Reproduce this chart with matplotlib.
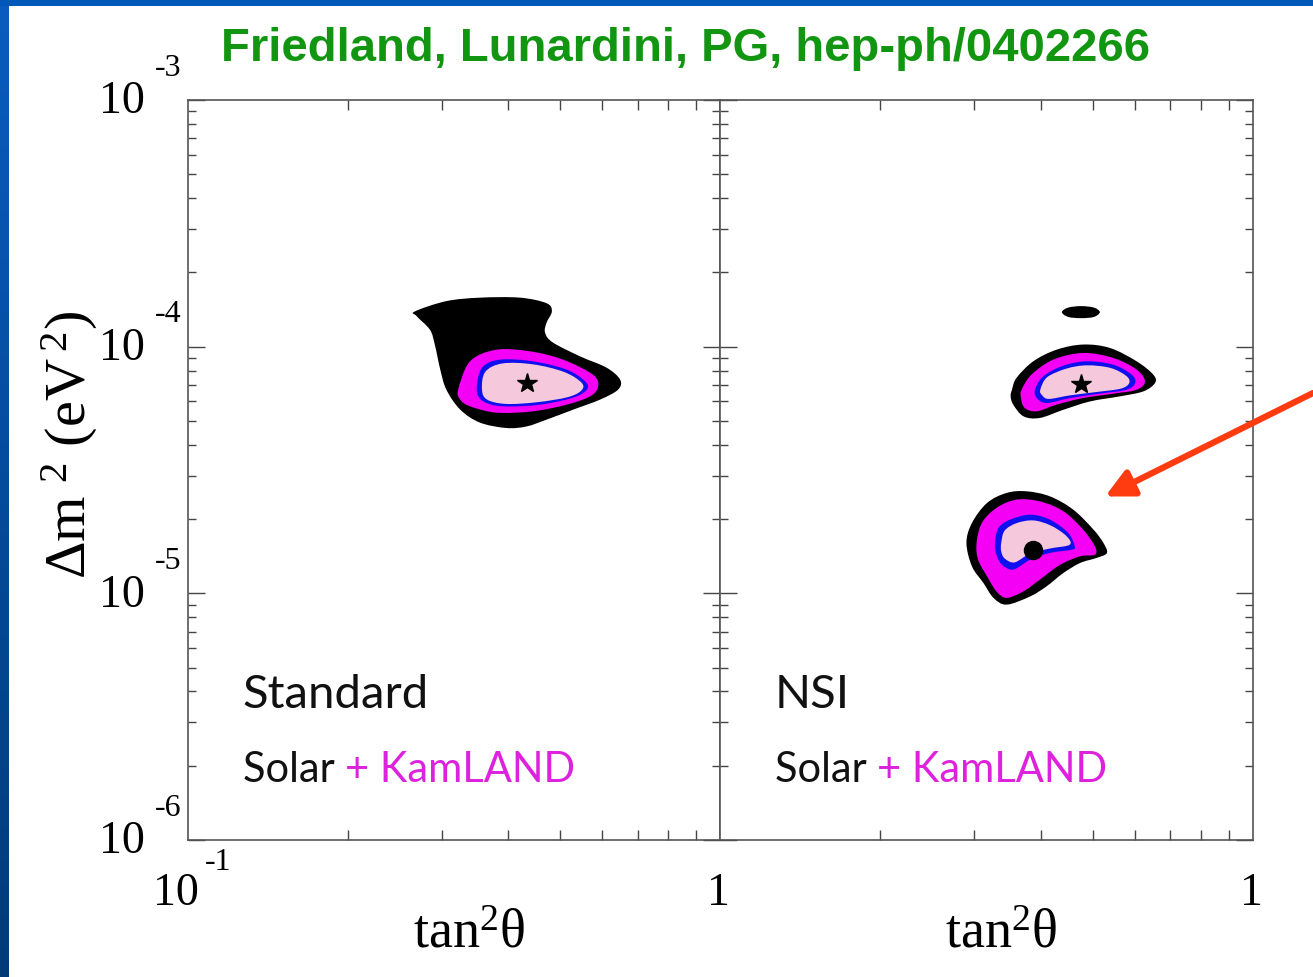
import numpy as np
import matplotlib
matplotlib.use("Agg")
import matplotlib.pyplot as plt
from matplotlib.path import Path
from matplotlib.patches import PathPatch, Rectangle
from matplotlib.ticker import LogLocator, NullFormatter
from matplotlib.colors import LinearSegmentedColormap

# ---------------- data (tan^2 theta, dm^2 in units of 1e-5 eV^2) ----------------
DM2_UNIT = 1e-5
title = "Friedland, Lunardini, PG, hep-ph/0402266"

# Standard (left panel)
std_black_t = [0.267, 0.306, 0.354, 0.421, 0.472, 0.483, 0.472, 0.469, 0.485, 0.546, 0.612, 0.649,
               0.643, 0.595, 0.529, 0.472, 0.433, 0.397, 0.354, 0.325, 0.306, 0.298, 0.291, 0.285, 0.269]
std_black_m = [13.9, 15.3, 15.8, 15.8, 15.0, 13.9, 12.5, 11.4, 10.4, 9.13, 8.22, 7.35,
               6.69, 6.10, 5.55, 5.06, 4.75, 4.68, 4.92, 5.55, 6.69, 8.07, 10.2, 11.7, 13.3]
std_mag_t = [0.322, 0.339, 0.380, 0.440, 0.507, 0.577, 0.590, 0.570, 0.515, 0.445, 0.380, 0.339, 0.325]
std_mag_m = [6.69, 8.72, 9.72, 9.57, 8.86, 7.70, 6.90, 6.29, 5.82, 5.47, 5.40, 5.73, 6.10]
std_blue_t = [0.349, 0.357, 0.386, 0.445, 0.515, 0.558, 0.562, 0.529, 0.459, 0.391, 0.359]
std_blue_m = [6.69, 8.22, 8.86, 8.72, 8.07, 7.23, 6.69, 6.21, 5.82, 5.73, 6.00]
std_pink_t = [0.357, 0.362, 0.390, 0.445, 0.509, 0.549, 0.549, 0.517, 0.452, 0.396, 0.365]
std_pink_m = [6.69, 7.90, 8.55, 8.48, 7.90, 7.15, 6.65, 6.24, 5.95, 5.86, 6.10]
std_best = (0.434, 7.14)

# NSI (right panel)
nsi_island_t = [0.438, 0.450, 0.476, 0.503, 0.516, 0.503, 0.476, 0.450]
nsi_island_m = [13.8, 14.4, 14.6, 14.4, 13.8, 13.2, 13.05, 13.2]

nsi_up_black_t = [0.353, 0.360, 0.387, 0.428, 0.480, 0.539, 0.605, 0.650, 0.655, 0.623, 0.563, 0.495,
                  0.441, 0.398, 0.371, 0.355, 0.351]
nsi_up_black_m = [6.69, 7.47, 8.72, 9.72, 10.2, 9.88, 8.72, 7.70, 7.13, 6.59, 6.29, 6.00,
                  5.55, 5.14, 5.22, 5.82, 6.29]
nsi_up_mag_t = [0.368, 0.384, 0.422, 0.480, 0.547, 0.605, 0.627, 0.605, 0.547, 0.480, 0.428, 0.393, 0.373, 0.367]
nsi_up_mag_m = [6.69, 7.70, 8.86, 9.43, 9.00, 8.07, 7.23, 6.69, 6.45, 6.19, 5.82, 5.47, 5.64, 6.19]
nsi_up_blue_t = [0.390, 0.404, 0.441, 0.488, 0.547, 0.592, 0.601, 0.579, 0.516, 0.454, 0.410, 0.393]
nsi_up_blue_m = [6.69, 7.58, 8.38, 8.72, 8.45, 7.70, 7.13, 6.69, 6.45, 6.19, 5.91, 6.19]
nsi_up_pink_t = [0.399, 0.411, 0.447, 0.488, 0.540, 0.578, 0.586, 0.565, 0.509, 0.454, 0.414, 0.402]
nsi_up_pink_m = [6.69, 7.52, 8.15, 8.40, 8.20, 7.62, 7.13, 6.76, 6.55, 6.35, 6.14, 6.36]
nsi_best = (0.476, 7.08)

nsi_lo_black_t = [0.290, 0.297, 0.317, 0.345, 0.376, 0.416, 0.460, 0.502, 0.524, 0.532, 0.509, 0.474,
                  0.441, 0.410, 0.382, 0.345, 0.326, 0.312, 0.297]
nsi_lo_black_m = [1.601, 1.930, 2.325, 2.553, 2.592, 2.472, 2.184, 1.813, 1.601, 1.458, 1.392, 1.328,
                  1.210, 1.068, 0.972, 0.900, 0.958, 1.102, 1.286]
nsi_lo_mag_t = [0.303, 0.310, 0.330, 0.360, 0.398, 0.441, 0.480, 0.505, 0.505, 0.474, 0.435, 0.398,
                0.371, 0.345, 0.330, 0.317, 0.305]
nsi_lo_mag_m = [1.601, 1.930, 2.219, 2.398, 2.360, 2.150, 1.813, 1.551, 1.435, 1.413, 1.307, 1.136,
                1.019, 0.958, 1.019, 1.172, 1.369]
nsi_lo_blue_t = [0.328, 0.333, 0.350, 0.382, 0.416, 0.450, 0.463, 0.457, 0.416, 0.382, 0.355, 0.338, 0.330]
nsi_lo_blue_m = [1.601, 1.841, 1.989, 2.084, 1.989, 1.758, 1.551, 1.503, 1.458, 1.369, 1.248, 1.307, 1.435]
nsi_lo_pink_t = [0.337, 0.342, 0.360, 0.387, 0.417, 0.446, 0.453, 0.416, 0.382, 0.357, 0.342, 0.337]
nsi_lo_pink_m = [1.601, 1.795, 1.925, 1.975, 1.885, 1.712, 1.575, 1.520, 1.450, 1.335, 1.385, 1.480]
nsi_lo_best = (0.387, 1.503)

arrow_target = (0.528, 2.47)   # (tan^2, dm^2 [1e-5])

y_tick_vals = [1e-6, 1e-5, 1e-4, 1e-3]
y_tick_exps = ["-6", "-5", "-4", "-3"]
panel_names = ["Standard", "NSI"]

# ---------------- style ----------------
C_BLACK = "#000000"
C_MAG = "#f400f4"
C_BLUE = "#1010ee"
C_PINK = "#f6c8dc"
C_TEXTMAG = "#dd22dd"
SERIF = "Liberation Serif"

W, H = 1313, 977
fig = plt.figure(figsize=(W / 100, H / 100), dpi=100)
fig.patch.set_facecolor("white")

axL = fig.add_axes([188 / W, 1 - 840 / H, 532 / W, 740 / H])
axR = fig.add_axes([720 / W, 1 - 840 / H, 533 / W, 740 / H])


def style(ax):
    ax.set_xscale("log")
    ax.set_yscale("log")
    ax.set_xlim(0.1, 1)
    ax.set_ylim(1e-6, 1e-3)
    ax.xaxis.set_minor_locator(LogLocator(base=10, subs=np.arange(2, 10), numticks=20))
    ax.yaxis.set_minor_locator(LogLocator(base=10, subs=np.arange(2, 10), numticks=20))
    ax.xaxis.set_minor_formatter(NullFormatter())
    ax.yaxis.set_minor_formatter(NullFormatter())
    ax.tick_params(which="both", direction="in", top=True, right=True, bottom=True, left=True,
                   labelbottom=False, labelleft=False, color="#444444", width=1)
    ax.tick_params(axis="y", which="major", length=12)
    ax.tick_params(axis="y", which="minor", length=5.5)
    ax.tick_params(axis="x", which="major", length=0)
    ax.tick_params(axis="x", which="minor", length=7)
    for s in ax.spines.values():
        s.set_color("#555555")
        s.set_linewidth(1.2)


style(axL)
style(axR)


def region(ax, t, m, color, z):
    """Closed smooth outline through the read-off points (Catmull-Rom in log space)."""
    P = np.column_stack([np.log10(np.asarray(t, float)),
                         np.log10(np.asarray(m, float) * DM2_UNIT)])
    n = len(P)
    verts = [P[0]]
    codes = [Path.MOVETO]
    for i in range(n):
        p0, p1, p2, p3 = P[i - 1], P[i], P[(i + 1) % n], P[(i + 2) % n]
        c1 = p1 + (p2 - p0) / 6.0
        c2 = p2 - (p3 - p1) / 6.0
        verts += [c1, c2, p2]
        codes += [Path.CURVE4] * 3
    verts = 10 ** np.array(verts)
    ax.add_patch(PathPatch(Path(verts, codes), facecolor=color, edgecolor="none", zorder=z))


region(axL, std_black_t, std_black_m, C_BLACK, 2)
region(axL, std_mag_t, std_mag_m, C_MAG, 3)
region(axL, std_blue_t, std_blue_m, C_BLUE, 4)
region(axL, std_pink_t, std_pink_m, C_PINK, 5)
axL.plot(std_best[0], std_best[1] * DM2_UNIT, marker="*", ms=15, color="black", zorder=6)

region(axR, nsi_island_t, nsi_island_m, C_BLACK, 2)
region(axR, nsi_up_black_t, nsi_up_black_m, C_BLACK, 2)
region(axR, nsi_up_mag_t, nsi_up_mag_m, C_MAG, 3)
region(axR, nsi_up_blue_t, nsi_up_blue_m, C_BLUE, 4)
region(axR, nsi_up_pink_t, nsi_up_pink_m, C_PINK, 5)
axR.plot(nsi_best[0], nsi_best[1] * DM2_UNIT, marker="*", ms=15, color="black", zorder=6)

region(axR, nsi_lo_black_t, nsi_lo_black_m, C_BLACK, 2)
region(axR, nsi_lo_mag_t, nsi_lo_mag_m, C_MAG, 3)
region(axR, nsi_lo_blue_t, nsi_lo_blue_m, C_BLUE, 4)
region(axR, nsi_lo_pink_t, nsi_lo_pink_m, C_PINK, 5)
axR.plot(nsi_lo_best[0], nsi_lo_best[1] * DM2_UNIT, marker="o", ms=13, color="black", zorder=6)

# ---------------- tick labels ----------------
for v, e in zip(y_tick_vals, y_tick_exps):
    axL.annotate("10", xy=(0, v), xycoords=("axes fraction", "data"), xytext=(-43, -2),
                 textcoords="offset pixels", ha="right", va="center", fontsize=33,
                 family=SERIF, annotation_clip=False)
    axL.annotate(e, xy=(0, v), xycoords=("axes fraction", "data"), xytext=(-33, 32),
                 textcoords="offset pixels", ha="left", va="center", fontsize=23,
                 family=SERIF, annotation_clip=False)

axL.annotate("10", xy=(0.1, 0), xycoords=("data", "axes fraction"), xytext=(-12, -54),
             textcoords="offset pixels", ha="center", va="center", fontsize=33, family=SERIF,
             annotation_clip=False)
axL.annotate("-1", xy=(0.1, 0), xycoords=("data", "axes fraction"), xytext=(17, -22),
             textcoords="offset pixels", ha="left", va="center", fontsize=23, family=SERIF,
             annotation_clip=False)
for ax in (axL, axR):
    ax.annotate("1", xy=(1.0, 0), xycoords=("data", "axes fraction"), xytext=(-2, -54),
                textcoords="offset pixels", ha="center", va="center", fontsize=33, family=SERIF,
                annotation_clip=False)
    ax.text(0.528, -0.127, r"tan$\mathregular{^2}$θ", transform=ax.transAxes, ha="center",
            va="center", fontsize=39, family=SERIF)

fig.text(70 / W, 1 - 445 / H, r"Δm$\mathregular{^{\ 2}}$ (eV$\mathregular{^{\,2}}$)", rotation=90,
         ha="center", va="center", fontsize=42, family=SERIF)

# ---------------- panel texts ----------------
for ax, name in zip((axL, axR), panel_names):
    ax.text(0.103, 0.178, name, transform=ax.transAxes, fontsize=34, family="Lato",
            fontweight="normal", va="baseline", ha="left", color="#111111")
    t1 = ax.text(0.103, 0.078, "Solar ", transform=ax.transAxes, fontsize=30, family="Lato",
                 fontweight="normal", va="baseline", ha="left", color="#111111")
    ax.annotate("+ KamLAND", xy=(1, 0), xycoords=t1, va="bottom", ha="left", fontsize=30,
                family="Lato", fontweight="normal", color=C_TEXTMAG)

# ---------------- title ----------------
fig.text(686 / W, 1 - 49 / H, title, ha="center", va="center", fontsize=34, fontweight="bold",
         family="Liberation Sans", color="#129612")

# ---------------- arrow ----------------
axR.annotate("", xy=(arrow_target[0], arrow_target[1] * DM2_UNIT), xycoords="data",
             xytext=(1.0, 1 - 393 / H), textcoords="figure fraction",
             arrowprops=dict(arrowstyle="-|>,head_length=0.6,head_width=0.3", color="#ff3b0f",
                             lw=4.5, shrinkA=0, shrinkB=0, mutation_scale=28),
             annotation_clip=False)

# ---------------- slide frame ----------------
fig.add_artist(Rectangle((0, 1 - 6 / H), 1, 6 / H, transform=fig.transFigure,
                         facecolor="#0058b8", edgecolor="none", zorder=10))
band = fig.add_axes([0, 0, 9 / W, 1])
band.imshow(np.linspace(0, 1, 256)[:, None],
            cmap=LinearSegmentedColormap.from_list("band", ["#0a5cc0", "#003b78"]),
            aspect="auto")
band.set_axis_off()

fig.savefig("out.png", dpi=100, facecolor="white")
